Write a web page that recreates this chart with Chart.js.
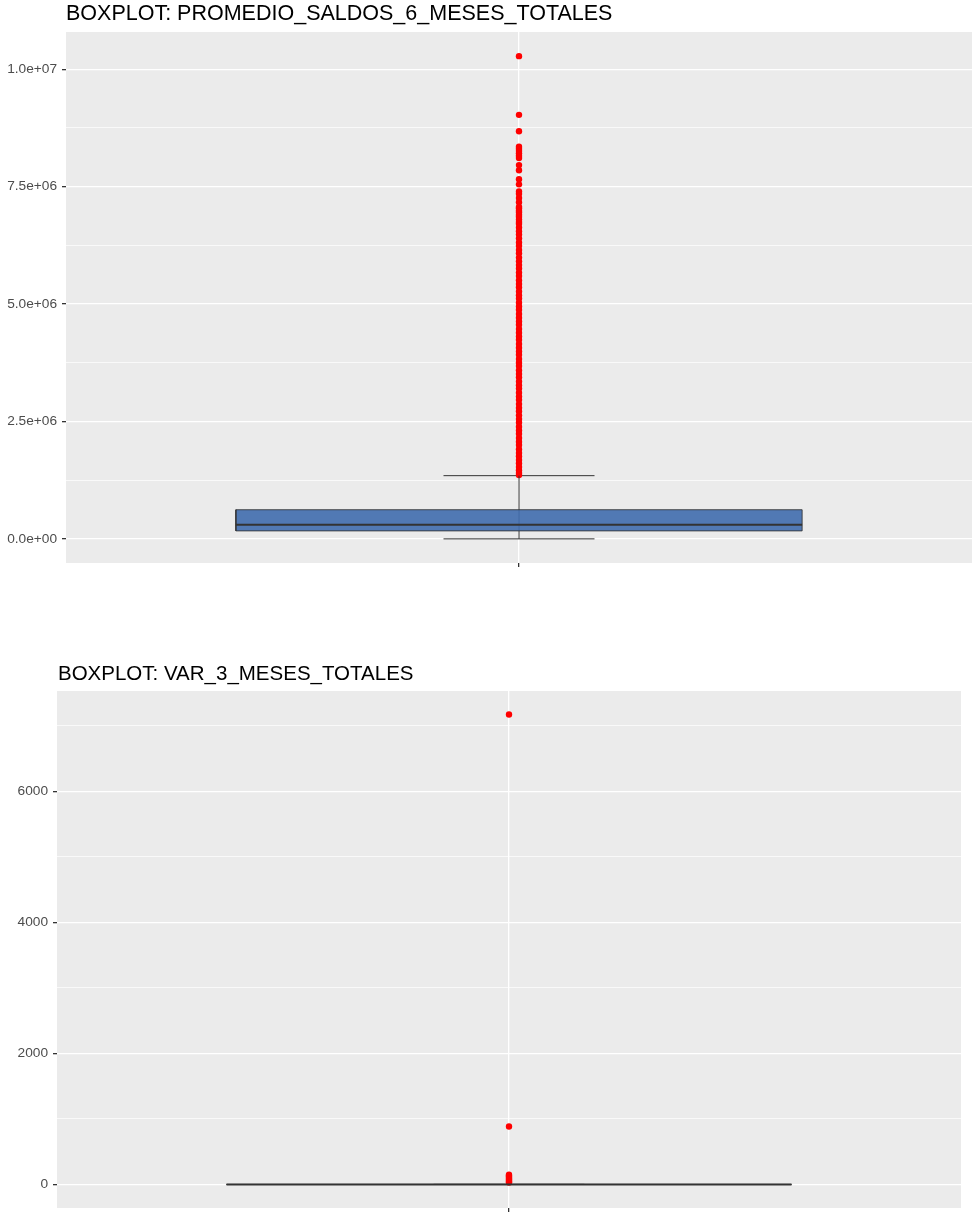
<!DOCTYPE html>
<html>
<head>
<meta charset="utf-8">
<script src="https://cdn.jsdelivr.net/npm/chart.js@4/dist/chart.umd.min.js"></script>
<style>
  body { margin: 0; background: #ffffff; width: 972px; height: 1212px; position: relative; overflow: hidden;
         font-family: "Liberation Sans", Arial, sans-serif; }
  canvas { position: absolute; left: 0; }
  .title { position: absolute; color: #000000; white-space: nowrap; }
</style>
</head>
<body>
<canvas id="saldosChart" width="972" height="590" style="top:0px;width:972px;height:590px"></canvas>
<canvas id="var3Chart" width="972" height="562" style="top:650px;width:972px;height:562px"></canvas>
<div class="title" style="left:66px;top:3px;font-size:21.5px;line-height:21.5px">BOXPLOT: PROMEDIO_SALDOS_6_MESES_TOTALES</div>
<div class="title" style="left:58px;top:663px;font-size:20.5px;line-height:20.5px">BOXPLOT: VAR_3_MESES_TOTALES</div>
<script>
// PROMEDIO_SALDOS_6_MESES_TOTALES: lower whisker, Q1, median, Q3, upper whisker
const saldosStats = [0, 170000, 300000, 620000, 1346000];
// points above the upper whisker
const saldosOutliers = [
  10280000, 9030000, 8680000, 8350000, 8310000, 8260000, 8210000, 8160000, 8110000,
  7960000, 7850000, 7660000, 7550000, 7400000, 7350000, 7260000, 7170000, 7070000,
  7040000, 6990000, 6950000, 6900000, 6860000, 6800000, 6750000, 6710000, 6630000,
  6550000, 6480000, 6400000, 6310000, 6240000, 6150000, 6080000, 5990000, 5910000,
  5830000, 5760000, 5670000, 5600000, 5510000, 5430000, 5360000, 5270000, 5190000,
  5120000, 5030000, 4950000, 4880000, 4790000, 4710000, 4630000, 4560000, 4470000,
  4390000, 4310000, 4240000, 4150000, 4070000, 3990000, 3920000, 3830000, 3750000,
  3680000, 3590000, 3510000, 3440000, 3350000, 3270000, 3200000, 3110000, 3030000,
  2960000, 2870000, 2790000, 2720000, 2630000, 2550000, 2480000, 2390000, 2310000,
  2240000, 2150000, 2070000, 2000000, 1910000, 1830000, 1760000, 1680000, 1610000,
  1530000, 1460000, 1400000, 1360000
];
const saldosTickValues = [0, 2500000, 5000000, 7500000, 10000000];
const saldosTickLabels = ['0.0e+00', '2.5e+06', '5.0e+06', '7.5e+06', '1.0e+07'];
const saldosMinorValues = [1250000, 3750000, 6250000, 8750000];

// VAR_3_MESES_TOTALES
const var3Stats = [0, 0, 0, 1, 2];
const var3Outliers = [7170, 885, 150, 135, 120, 100, 85, 70, 55, 40, 30];
const var3TickValues = [0, 2000, 4000, 6000];
const var3TickLabels = ['0', '2000', '4000', '6000'];
const var3MinorValues = [1000, 3000, 5000, 7000];

const FONT = '"Liberation Sans", Arial, sans-serif';
const BOX_WIDTH = 0.75;
const CAP_WIDTH = 0.2;

// grey panel behind the plotting area
const panelBackground = {
  id: 'panelBackground',
  beforeDraw(chart) {
    const { ctx, chartArea: a } = chart;
    ctx.save();
    ctx.fillStyle = '#EBEBEB';
    ctx.fillRect(a.left, a.top, a.right - a.left, a.bottom - a.top);
    ctx.restore();
  }
};

function expandRange(lo, hi) {
  const pad = (hi - lo) * 0.05;
  return [lo - pad, hi + pad];
}

function segment(points, color, width, order) {
  return {
    data: points, showLine: true, fill: false, borderColor: color, borderWidth: width,
    pointRadius: 0, tension: 0, order: order
  };
}

function boxplotChart(canvasId, stats, outliers, tickValues, tickLabels, minorValues, frame) {
  const [wLow, q1, med, q3, wHigh] = stats;
  const [yMin, yMax] = expandRange(Math.min(wLow, ...outliers), Math.max(wHigh, ...outliers));
  const boxL = 1 - BOX_WIDTH / 2, boxR = 1 + BOX_WIDTH / 2;
  const capL = 1 - CAP_WIDTH / 2, capR = 1 + CAP_WIDTH / 2;
  const gridValues = tickValues.concat(minorValues)
    .filter(v => v >= yMin && v <= yMax).sort((a, b) => a - b);
  const isMajor = ctx => ctx.tick && tickValues.includes(ctx.tick.value);

  return new Chart(document.getElementById(canvasId), {
    type: 'scatter',
    data: {
      datasets: [
        segment([{ x: capL, y: wHigh }, { x: capR, y: wHigh }], '#333333', 1, 6),
        segment([{ x: capL, y: wLow }, { x: capR, y: wLow }], '#333333', 1, 6),
        {
          data: outliers.map(v => ({ x: 1, y: v })),
          pointRadius: 3.2, pointBackgroundColor: '#FF0000', pointBorderWidth: 0,
          showLine: false, order: 5
        },
        segment([{ x: 1, y: wLow }, { x: 1, y: wHigh }], '#333333', 1, 4),
        {
          data: [{ x: boxL, y: q1 }, { x: boxR, y: q1 }, { x: boxR, y: q3 }, { x: boxL, y: q3 }, { x: boxL, y: q1 }],
          showLine: true, fill: 'shape', backgroundColor: 'rgba(64,109,174,0.9)',
          borderColor: 'rgba(51,51,51,0.85)', borderWidth: 1, borderJoinStyle: 'miter',
          pointRadius: 0, tension: 0, order: 3
        },
        segment([{ x: boxL, y: med }, { x: boxR, y: med }], '#333333', 2, 2)
      ]
    },
    options: {
      responsive: false,
      animation: false,
      events: [],
      layout: { padding: frame.padding, autoPadding: false },
      plugins: { legend: { display: false }, tooltip: { enabled: false }, title: { display: false } },
      scales: {
        x: {
          type: 'linear', min: 0.4, max: 1.6,
          afterBuildTicks: ax => { ax.ticks = [{ value: 1 }]; },
          afterFit: ax => { ax.height = frame.xAxisHeight; ax.paddingLeft = 0; ax.paddingRight = 0; },
          ticks: { callback: () => '' },
          grid: { color: '#FFFFFF', lineWidth: 1.3, tickColor: '#333333', tickLength: 4, drawTicks: true },
          border: { display: false }
        },
        y: {
          type: 'linear', min: yMin, max: yMax,
          afterBuildTicks: ax => { ax.ticks = gridValues.map(v => ({ value: v })); },
          afterFit: ax => { ax.width = frame.yAxisWidth; ax.paddingTop = 0; ax.paddingBottom = 0; },
          ticks: {
            autoSkip: false, padding: 5, color: '#4D4D4D',
            font: { family: FONT, size: 13.7 },
            callback: v => { const i = tickValues.indexOf(v); return i < 0 ? '' : tickLabels[i]; }
          },
          grid: {
            color: '#FFFFFF',
            lineWidth: ctx => isMajor(ctx) ? 1.3 : 0.7,
            tickColor: ctx => isMajor(ctx) ? '#333333' : 'rgba(0,0,0,0)',
            tickLength: 4, drawTicks: true
          },
          border: { display: false }
        }
      }
    },
    plugins: [panelBackground]
  });
}

boxplotChart('saldosChart', saldosStats, saldosOutliers, saldosTickValues, saldosTickLabels, saldosMinorValues,
  { padding: { top: 32, left: 0, right: 0, bottom: 0 }, yAxisWidth: 66, xAxisHeight: 27 });

boxplotChart('var3Chart', var3Stats, var3Outliers, var3TickValues, var3TickLabels, var3MinorValues,
  { padding: { top: 41, left: 0, right: 11, bottom: 0 }, yAxisWidth: 57, xAxisHeight: 4 });
</script>
</body>
</html>
